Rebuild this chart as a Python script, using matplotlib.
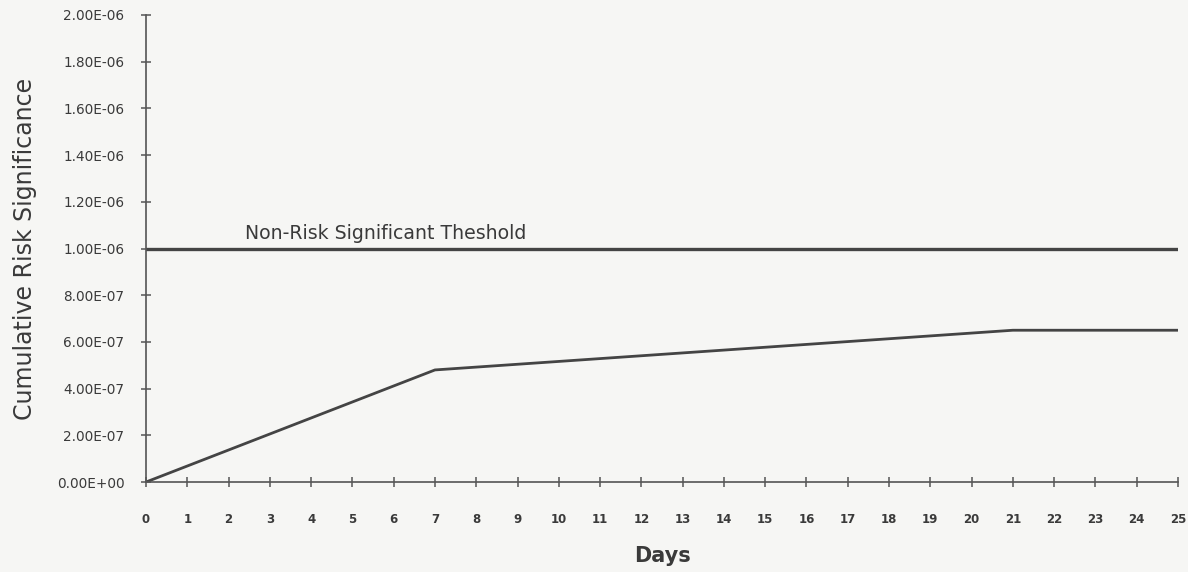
import matplotlib
matplotlib.use("Agg")
import matplotlib.pyplot as plt
from matplotlib.ticker import FuncFormatter

days = [0, 7, 21, 25]
cumulative_risk = [0.0, 4.8e-7, 6.5e-7, 6.5e-7]
threshold = 1.0e-6
threshold_label = "Non-Risk Significant Theshold"
x_ticks = list(range(0, 26))
y_ticks = [i * 2e-7 for i in range(11)]

plt.rcParams['font.family'] = ['DejaVu Sans']
bg = '#f6f6f4'
ink = '#3a3a3a'

fig = plt.figure(figsize=(11.88, 5.72), dpi=100, facecolor=bg)
ax = fig.add_axes([0.1229, 0.1573, 0.8687, 0.8165], facecolor=bg)

ax.plot(days, cumulative_risk, color='#444444', lw=2.0, solid_capstyle='butt')
ax.axhline(threshold, color='#444444', lw=2.4)
ax.text(2.4, threshold + 0.22e-7, threshold_label, fontsize=13.6, color=ink,
        ha='left', va='bottom')

ax.set_xlim(0, 25)
ax.set_ylim(0, 2.0e-6)
ax.set_xticks(x_ticks)
ax.set_yticks(y_ticks)

def fmt(v, pos):
    s = "%.2E" % v
    mant, exp = s.split('E')
    sign = exp[0]
    return "%sE%s%02d" % (mant, '-' if sign == '-' else '+', abs(int(exp)))

ax.yaxis.set_major_formatter(FuncFormatter(fmt))

for s in ['top', 'right']:
    ax.spines[s].set_visible(False)
for s in ['left', 'bottom']:
    ax.spines[s].set_color('#555555')
    ax.spines[s].set_linewidth(1.2)

ax.tick_params(axis='both', direction='inout', length=7, width=1.1, color='#555555',
               labelcolor=ink)
ax.tick_params(axis='y', labelsize=9.8, pad=12)
ax.tick_params(axis='x', labelsize=8.5, pad=19)
for lbl in ax.get_xticklabels():
    lbl.set_fontweight('bold')

ax.set_xlabel('Days', fontsize=15, fontweight='bold', color=ink, labelpad=14)
ax.set_ylabel('Cumulative Risk Significance', fontsize=17, color=ink, labelpad=14)

fig.savefig('out.png', dpi=100, facecolor=bg)
